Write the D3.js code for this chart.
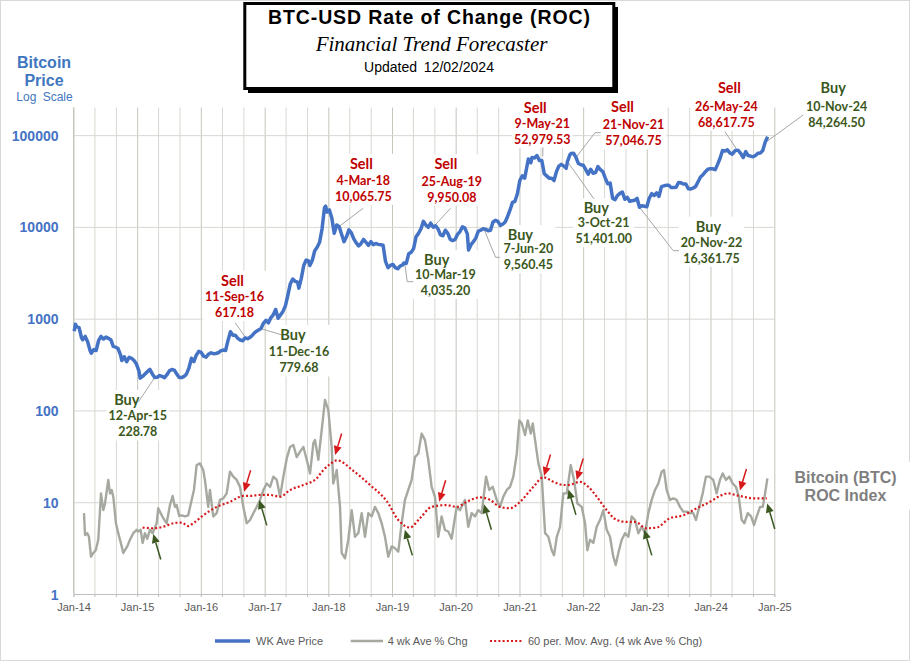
<!DOCTYPE html>
<html><head><meta charset="utf-8">
<script src="https://cdn.jsdelivr.net/npm/d3@7"></script>
<style>
body{margin:0;background:#fff;}
svg{display:block;}
</style></head><body>
<svg id="chart" width="911" height="662"></svg>
<script>
// ---------------- DATA ----------------
const priceDates = ["2014-01-05","2014-01-12","2014-01-19","2014-02-02","2014-02-16","2014-02-23","2014-03-09","2014-03-23","2014-04-06","2014-04-13","2014-04-27","2014-05-11","2014-05-25","2014-06-08","2014-06-22","2014-07-06","2014-07-20","2014-08-03","2014-08-17","2014-08-31","2014-09-14","2014-09-28","2014-10-05","2014-10-19","2014-11-02","2014-11-16","2014-11-30","2014-12-14","2014-12-28",
"2015-01-11","2015-01-18","2015-02-01","2015-02-15","2015-03-01","2015-03-15","2015-03-29","2015-04-12","2015-04-26","2015-05-10","2015-05-24","2015-06-07","2015-06-21","2015-07-05","2015-07-19","2015-08-02","2015-08-16","2015-08-30","2015-09-13","2015-09-27","2015-10-11","2015-10-25","2015-11-08","2015-11-22","2015-12-06","2015-12-20",
"2016-01-03","2016-01-17","2016-01-31","2016-02-14","2016-02-28","2016-03-13","2016-03-27","2016-04-10","2016-04-24","2016-05-08","2016-05-22","2016-06-05","2016-06-19","2016-07-03","2016-07-17","2016-07-31","2016-08-14","2016-08-28","2016-09-11","2016-09-25","2016-10-09","2016-10-23","2016-11-06","2016-11-20","2016-12-11","2016-12-25",
"2017-01-08","2017-01-22","2017-02-05","2017-02-19","2017-03-05","2017-03-19","2017-04-02","2017-04-16","2017-04-30","2017-05-14","2017-05-28","2017-06-11","2017-06-25","2017-07-09","2017-07-16","2017-07-30","2017-08-13","2017-08-27","2017-09-10","2017-09-17","2017-10-01","2017-10-15","2017-10-29","2017-11-12","2017-11-26","2017-12-10","2017-12-17","2017-12-24",
"2018-01-07","2018-01-21","2018-02-04","2018-02-18","2018-03-04","2018-03-18","2018-04-01","2018-04-15","2018-04-29","2018-05-13","2018-05-27","2018-06-10","2018-06-24","2018-07-08","2018-07-22","2018-08-05","2018-08-19","2018-09-02","2018-09-16","2018-09-30","2018-10-14","2018-10-28","2018-11-11","2018-11-25","2018-12-09","2018-12-23",
"2019-01-06","2019-01-20","2019-02-03","2019-02-17","2019-03-03","2019-03-10","2019-03-24","2019-04-07","2019-04-21","2019-05-05","2019-05-19","2019-06-02","2019-06-16","2019-06-30","2019-07-14","2019-07-28","2019-08-11","2019-08-25","2019-09-08","2019-09-22","2019-10-06","2019-10-20","2019-11-03","2019-11-17","2019-12-01","2019-12-15","2019-12-29",
"2020-01-12","2020-01-26","2020-02-09","2020-02-23","2020-03-08","2020-03-15","2020-03-29","2020-04-12","2020-04-26","2020-05-10","2020-05-24","2020-06-07","2020-06-21","2020-07-05","2020-07-19","2020-08-02","2020-08-16","2020-08-30","2020-09-13","2020-09-27","2020-10-11","2020-10-25","2020-11-08","2020-11-22","2020-12-06","2020-12-20",
"2021-01-03","2021-01-17","2021-01-31","2021-02-14","2021-02-21","2021-03-07","2021-03-14","2021-03-28","2021-04-11","2021-04-25","2021-05-09","2021-05-23","2021-06-06","2021-06-20","2021-07-04","2021-07-18","2021-08-01","2021-08-15","2021-08-29","2021-09-12","2021-09-26","2021-10-03","2021-10-17","2021-10-24","2021-11-07","2021-11-21","2021-12-05","2021-12-19",
"2022-01-02","2022-01-16","2022-01-30","2022-02-13","2022-02-27","2022-03-13","2022-03-27","2022-04-10","2022-04-24","2022-05-08","2022-05-22","2022-06-05","2022-06-19","2022-07-03","2022-07-17","2022-07-31","2022-08-14","2022-08-28","2022-09-11","2022-09-25","2022-10-09","2022-10-23","2022-11-06","2022-11-20","2022-12-04","2022-12-18",
"2023-01-01","2023-01-15","2023-01-29","2023-02-12","2023-02-26","2023-03-12","2023-03-26","2023-04-09","2023-04-23","2023-05-07","2023-05-21","2023-06-04","2023-06-18","2023-07-02","2023-07-16","2023-07-30","2023-08-13","2023-08-27","2023-09-10","2023-09-24","2023-10-08","2023-10-22","2023-11-05","2023-11-19","2023-12-03","2023-12-17","2023-12-31",
"2024-01-14","2024-01-28","2024-02-11","2024-02-25","2024-03-10","2024-03-24","2024-04-07","2024-04-21","2024-05-05","2024-05-19","2024-05-26","2024-06-09","2024-06-23","2024-07-07","2024-07-21","2024-08-04","2024-08-18","2024-09-01","2024-09-15","2024-09-29","2024-10-13","2024-10-27","2024-11-10","2024-11-24"];
const priceValues = [730,870,820,800,620,590,640,560,450,420,460,450,580,640,600,630,610,590,500,490,470,400,350,385,340,380,370,350,320,
270,225,235,250,265,280,250,228.78,230,240,235,228,245,270,280,275,250,228,228,235,250,290,370,340,400,440,
430,390,380,410,425,415,418,425,445,455,450,580,720,660,660,610,585,575,617.18,605,625,660,710,740,779.68,890,
960,900,1020,1100,1260,1010,1100,1200,1380,1800,2400,2700,2550,2500,2150,2750,3800,4350,4250,3800,4300,5500,6000,6800,9500,16200,16800,14500,
15300,12500,8500,10500,10065.75,8300,6900,7800,9300,8600,7400,6700,6200,6600,7300,6800,6300,6900,6400,6600,6450,6400,6300,4200,3600,3800,
3900,3600,3500,3750,3850,4035.2,4000,5100,5300,5800,7800,8500,9500,11500,10500,9900,11000,9950.08,10300,9500,8200,8000,9200,8500,7300,7100,7300,
8300,8900,10000,9700,8400,5600,6400,6900,7600,9000,9200,9560.45,9400,9100,9200,11300,11800,11500,10400,10700,11300,13000,15300,18500,19000,23000,
32000,36000,34000,47000,55000,50000,57000,56500,60000,53000,52979.53,38000,36000,34000,34000,32000,40000,46000,48000,46000,43500,51401,61000,63000,63500,57046.75,49000,47500,
47000,42000,37500,42500,38500,39000,45500,42000,40000,34000,29500,30000,20500,19800,22000,23200,24000,20000,21000,19000,19300,19500,20500,16361.75,17000,16800,
16600,20500,23000,22000,23500,21500,27500,28000,28500,28500,26800,26800,27000,30500,30200,29300,29300,26000,25900,26500,27600,31000,35000,37000,40000,42500,43000,
43000,42000,48000,56000,68000,67000,69000,64000,62000,67000,68617.75,68000,63000,57000,66000,60000,59000,58000,60000,63500,64000,68000,84264.5,96000];

// 4 wk Ave % Chg (time as decimal year)
const rocTimes = [2014.165,2014.181,2014.217,2014.243,2014.275,2014.311,2014.349,2014.389,2014.432,2014.468,2014.495,2014.546,2014.573,2014.600,2014.625,2014.667,2014.703,2014.757,2014.782,2014.808,2014.845,2014.887,2014.939,2014.992,
2015.017,2015.055,2015.086,2015.122,2015.159,2015.201,2015.243,2015.306,2015.331,2015.369,2015.410,2015.463,2015.515,2015.557,2015.593,2015.620,2015.661,2015.699,2015.750,2015.802,2015.856,2015.892,2015.934,2015.986,
2016.038,2016.064,2016.116,2016.143,2016.195,2016.248,2016.300,2016.352,2016.405,2016.457,2016.509,2016.562,2016.614,2016.666,2016.719,2016.771,2016.823,2016.876,2016.928,2016.980,
2017.033,2017.085,2017.137,2017.190,2017.242,2017.294,2017.347,2017.399,2017.451,2017.504,2017.556,2017.608,2017.661,2017.713,2017.765,2017.791,2017.843,2017.896,2017.948,2018.000,
2018.053,2018.078,2018.132,2018.184,2018.210,2018.262,2018.314,2018.367,2018.419,2018.471,2018.524,2018.576,2018.628,2018.681,2018.733,2018.785,2018.838,2018.890,2018.942,2018.995,
2019.047,2019.099,2019.152,2019.204,2019.256,2019.309,2019.361,2019.413,2019.466,2019.518,2019.570,2019.623,2019.675,2019.727,2019.780,2019.832,2019.884,2019.937,
2020.016,2020.068,2020.146,2020.198,2020.251,2020.303,2020.355,2020.408,2020.476,2020.527,2020.581,2020.644,2020.695,2020.747,2020.801,2020.852,2020.904,2020.958,2020.998,
2021.036,2021.088,2021.130,2021.177,2021.209,2021.245,2021.297,2021.350,2021.402,2021.454,2021.507,2021.543,2021.586,2021.637,2021.689,2021.743,2021.805,2021.857,2021.909,2021.978,
2022.030,2022.066,2022.108,2022.160,2022.213,2022.265,2022.317,2022.370,2022.422,2022.474,2022.512,2022.553,2022.606,2022.658,2022.710,2022.763,2022.815,2022.867,2022.920,2022.972,
2023.024,2023.077,2023.129,2023.181,2023.234,2023.270,2023.312,2023.364,2023.416,2023.469,2023.521,2023.573,2023.626,2023.678,2023.730,2023.772,2023.824,2023.878,2023.929,2023.981,
2024.044,2024.097,2024.148,2024.191,2024.243,2024.295,2024.348,2024.400,2024.443,2024.490,2024.531,2024.584,2024.636,2024.683,2024.725,2024.777,2024.820,2024.856,2024.892];
const rocValues = [7.6,4.4,4.6,4.2,2.55,2.8,3.0,3.9,12.5,8.2,9.7,17.5,12.5,13.6,11.5,5.9,4.6,3.3,2.8,3.0,3.3,3.9,4.6,5.0,
4.8,5.0,3.6,4.6,4.0,5.0,4.6,5.9,8.6,7.6,6.7,5.9,9.3,11.7,8.9,9.3,7.1,7.2,7.0,7.2,10.6,13.6,25.4,26.5,
22.4,17.5,8.9,13.6,7.0,7.6,10.6,11.0,12.5,21.5,19,17.5,14.7,8.9,5.9,6.4,7.6,8.9,10.6,13.6,
16,14.7,19,17.5,11.5,19,30,40,42,31,35.6,40,29,20.6,44,47.5,29,61,130,101,
40,16,22.4,8.9,2.8,2.45,3.9,8.2,4.2,4.6,7.6,4.2,7.6,7.0,8.9,7.6,5.9,4.2,2.55,3.3,
3.15,2.9,5.9,10.6,13.6,17.5,31,34,56,47.5,29,14.7,11.5,4.2,7.0,5.0,4.8,4.0,
8.9,8.2,10.6,5.4,7.6,7.0,8.2,7.6,19,13.6,14.7,10.6,8.9,11.5,13.6,14.7,19,34,78,
72,54,78,56,72,47.5,26.5,19,4.6,4.2,3.0,2.65,4.2,5.4,12.5,12.5,25.4,17.5,9.7,8.9,
5.9,3.0,3.9,3.6,5.4,6.4,8.2,5.0,4.2,2.55,2.07,2.8,3.9,4.6,4.2,7.0,6.4,4.6,5.4,4.6,
7.6,10.6,13.6,16,21.5,22.4,13.6,10.6,11,10.6,8.9,7.9,7.9,7.6,7.6,6.4,8.9,12.5,19,19,
17.5,12.5,17.5,20.6,17.5,19,16,14.7,11.5,6.4,5.9,7.6,7.0,5.65,7.0,8.9,8.9,12.5,18.2];

// 60 per. Mov. Avg. (4 wk Ave % Chg)
const maTimes = [2015.086,2015.253,2015.410,2015.567,2015.699,2015.802,2015.881,2016.038,2016.248,2016.457,2016.666,2016.771,2016.928,2017.085,2017.242,2017.399,2017.608,2017.818,2017.922,2018.027,2018.137,2018.392,2018.655,2018.917,2019.099,2019.283,2019.440,2019.623,2019.859,2020.016,2020.173,2020.381,2020.538,2020.695,2020.852,2021.009,2021.218,2021.375,2021.532,2021.689,2021.768,2021.951,2022.082,2022.213,2022.370,2022.527,2022.684,2022.815,2022.998,2023.155,2023.364,2023.573,2023.783,2023.992,2024.148,2024.279,2024.385,2024.515,2024.672,2024.882];
const maValues = [5.3,5.2,5.4,5.9,6.0,5.5,5.9,7.2,8.9,10.1,11.7,11.7,12,12,11.5,13.6,15.4,18.2,22.4,26,28.6,22,15.4,10.3,6.4,5.3,6.7,8.9,9.3,8.9,10.1,11.3,10.6,8.9,8.6,10.1,14.7,18.7,16.7,15.4,15.4,16.7,14.7,11.5,8.2,6.4,6.1,6.1,5.2,5.3,6.7,7.2,8.6,10.1,11.7,12.5,12,11.5,11.0,11.0];

// Buy / Sell signals
const signalDates  = ["2015-04-12","2016-09-11","2016-12-11","2018-03-04","2019-03-10","2019-08-25","2020-06-07","2021-05-09","2021-10-03","2021-11-21","2022-11-20","2024-05-26","2024-11-10"];
const signalTypes  = ["Buy","Sell","Buy","Sell","Buy","Sell","Buy","Sell","Buy","Sell","Buy","Sell","Buy"];
const signalPrices = [228.78,617.18,779.68,10065.75,4035.20,9950.08,9560.45,52979.53,51401.00,57046.75,16361.75,68617.75,84264.50];
const signalRocLevel = [4.5,13.0,10.6,32.7,5.0,10.1,9.5,19.3,13.8,17.5,5.0,13.4,9.7];

const yTickValues = [1,10,100,1000,10000,100000];
const legendLabels = ["WK Ave Price","4 wk Ave % Chg","60 per. Mov. Avg. (4 wk Ave % Chg)"];

// ---------------- LAYOUT (pixel offsets, not data) ----------------
const labelLayout = [
 {dx:-17,  dy:27.5, hdx:-11, gap:15.5, leader:[[-16.4,24.5],[0,0]], adx:-1.5},
 {dx:-10.6,dy:-52.2,hdx:-2,  gap:15.3, leader:[[-10,-15.2],[0,-1]], adx:-1},
 {dx:38,   dy:11.4, hdx:-6,  gap:16.5, leader:[[0,0],[21,6.4]], adx:-1.7},
 {dx:24.2, dy:-57.7,hdx:-2,  gap:16,   leader:[[24.1,-18.4],[1,-1]], adx:-4},
 {dx:41.6, dy:2,    hdx:-8.7,gap:14,   leader:[[1,1],[3.4,18.6],[9.4,18.6]], adx:1},
 {dx:18.7, dy:-57.8,hdx:-6,  gap:16.4, leader:[[17.4,-18.8],[1,-1]], adx:6},
 {dx:45.2, dy:11.3, hdx:-8,  gap:13.3, leader:[[1,1],[12.4,28.6],[16.7,28.6]], adx:0.7},
 {dx:0.5,  dy:-47.2,hdx:-7,  gap:15,   leader:[[1,-13],[1,-4]], adx:2.2},
 {dx:36.3, dy:51.6, hdx:-7.4,gap:14,   leader:[[0,0],[26.6,37.3]], adx:1},
 {dx:57.5, dy:-45.8,hdx:-11, gap:17.6, leader:[[24.7,-24.8],[19,-24.8],[0,0]], adx:0.7},
 {dx:72,   dy:24.4, hdx:-3,  gap:15,   leader:[[0,0],[33.8,43.4],[39.5,43.4]], adx:4.8},
 {dx:-9.6, dy:-57.5,hdx:3,   gap:18,   leader:[[-11,-18.5],[0,-2]], adx:4},
 {dx:71.4, dy:-49.3,hdx:-3.4,gap:18.3, leader:[[38,-27],[1.4,-0.3]], adx:2}
];

// ---------------- DRAW ----------------
const svg = d3.select("#chart");
const parse = d3.timeParse("%Y-%m-%d");
const fromDecimal = t => { const yr = Math.floor(t); const a = new Date(yr,0,1), b = new Date(yr+1,0,1); return new Date(+a + (t-yr)*(b-a)); };

const pL = 73.5, pR = 774.3, pT = 107.5, pB = 594;
const x = d3.scaleTime().domain([new Date(2014,0,1), new Date(2025,0,1)]).range([pL, pR]);
const y = d3.scaleLog().domain([1, 200000]).range([pB, pT]);

const BLUE = "#4472c4", GRAY = "#a5a9a0", RED = "#d7191c", GREEN = "#3b5720", SELLRED = "#c00000";

// outer border
svg.append("rect").attr("x",0.5).attr("y",0.5).attr("width",909).attr("height",660)
  .attr("fill","#fff").attr("stroke","#d9d9d9");

const monthTicks = d3.timeMonth.every(4).range(new Date(2014,0,1), new Date(2025,0,2));

// vertical gridlines
svg.append("g").attr("transform",`translate(0,${pB})`)
  .call(d3.axisBottom(x).tickValues(monthTicks).tickSize(-(pB-pT)).tickFormat(""))
  .call(g => g.select(".domain").remove())
  .call(g => g.selectAll("line").attr("stroke", d => d.getMonth()===0 ? "#c3c7bb" : "#d6d8d1").attr("stroke-width",1));
// horizontal gridlines
svg.append("g").attr("transform",`translate(${pL},0)`)
  .call(d3.axisLeft(y).tickValues(yTickValues.slice(1)).tickSize(-(pR-pL)).tickFormat(""))
  .call(g => g.select(".domain").remove())
  .call(g => g.selectAll("line").attr("stroke","#d6d8d1"));

// axes
svg.append("g").attr("transform",`translate(0,${pB})`)
  .call(d3.axisBottom(x).tickValues(monthTicks).tickSize(3).tickPadding(6)
    .tickFormat(d => d.getMonth()===0 ? d3.timeFormat("%b-%y")(d) : ""))
  .call(g => g.select(".domain").attr("stroke","#bfbfbf"))
  .call(g => g.selectAll("line").attr("stroke","#bfbfbf"))
  .call(g => g.selectAll("text").attr("fill","#595959").attr("font-family","Liberation Sans, Arial, sans-serif").attr("font-size",11));
svg.append("g").attr("transform",`translate(${pL},0)`)
  .call(d3.axisLeft(y).tickValues(yTickValues).tickSize(0).tickPadding(15).tickFormat(d3.format("d")))
  .call(g => g.select(".domain").attr("stroke","#c3c7bb").attr("d",`M0,${pT}V${pB}`))
  .call(g => g.selectAll("text").attr("fill",BLUE).attr("font-family","Liberation Sans, Arial, sans-serif")
     .attr("font-weight","bold").attr("font-size",14).attr("dy","0.36em"));

// label background layer (covers gridlines, sits under the series)
const labelBgG = svg.append("g");

// series
const priceData = priceDates.map((d,i)=>({date:parse(d), v:priceValues[i]}));
const rocData = rocTimes.map((t,i)=>({date:fromDecimal(t), v:rocValues[i]}));
const maData = maTimes.map((t,i)=>({date:fromDecimal(t), v:maValues[i]}));

svg.append("path").datum(rocData)
  .attr("d", d3.line().x(d=>x(d.date)).y(d=>y(d.v)))
  .attr("fill","none").attr("stroke",GRAY).attr("stroke-width",2.4).attr("stroke-linejoin","round");
svg.append("path").datum(maData)
  .attr("d", d3.line().curve(d3.curveMonotoneX).x(d=>x(d.date)).y(d=>y(d.v)))
  .attr("fill","none").attr("stroke",RED).attr("stroke-width",2.2).attr("stroke-dasharray","2 2.2");
const leaderG = svg.append("g");
svg.append("path").datum(priceData)
  .attr("d", d3.line().x(d=>x(d.date)).y(d=>y(d.v)))
  .attr("fill","none").attr("stroke",BLUE).attr("stroke-width",3.5).attr("stroke-linejoin","round");

// arrows at ROC signals
function arrow(g, x2, y2, dxTail, dyTail, color){
  const x1 = x2 + dxTail, y1 = y2 + dyTail;
  const len = Math.hypot(x2-x1, y2-y1), ux = (x2-x1)/len, uy = (y2-y1)/len;
  const hl = 9, hw = 4;
  const bx = x2 - ux*hl, by = y2 - uy*hl;
  g.append("line").attr("x1",x1).attr("y1",y1).attr("x2",bx).attr("y2",by)
    .attr("stroke",color).attr("stroke-width",1.5);
  g.append("path").attr("d",`M${x2},${y2}L${bx - uy*hw},${by + ux*hw}L${bx + uy*hw},${by - ux*hw}Z`).attr("fill",color);
}
const arrowsG = svg.append("g");
signalDates.forEach((d,i)=>{
  const ax = x(parse(d)) + labelLayout[i].adx, ay = y(signalRocLevel[i]);
  if (signalTypes[i]==="Sell") arrow(arrowsG, ax, ay, 6.5, -21.5, RED);
  else arrow(arrowsG, ax, ay, 7.5, 25.5, GREEN);
});

// price labels
const fmtDate = d3.timeFormat("%-d-%b-%y");
const fmtPrice = d3.format(",.2f");
const labelsG = svg.append("g");
signalDates.forEach((d,i)=>{
  const L = labelLayout[i];
  const px = x(parse(d)), py = y(signalPrices[i]);
  const col = signalTypes[i]==="Sell" ? SELLRED : GREEN;
  leaderG.append("path")
    .attr("d", d3.line()(L.leader.map(p=>[px+p[0], py+p[1]])))
    .attr("fill","none").attr("stroke","#a6a6a6").attr("stroke-width",1);
  const cx = px + L.dx, by = py + L.dy;
  const tg = labelsG.append("g").attr("font-family","Lato, Carlito, sans-serif").attr("font-weight","bold")
     .attr("fill",col).attr("text-anchor","middle");
  tg.append("text").attr("x",cx+L.hdx).attr("y",by).attr("font-size",14.5).text(signalTypes[i]);
  tg.append("text").attr("x",cx).attr("y",by+L.gap).attr("font-size",12.5).text(fmtDate(parse(d)));
  tg.append("text").attr("x",cx).attr("y",by+L.gap+16).attr("font-size",12.5).text(fmtPrice(signalPrices[i]));
  const bb = tg.node().getBBox();
  labelBgG.append("rect").attr("fill","#fff")
    .attr("x",bb.x-2).attr("y",bb.y-1).attr("width",bb.width+4).attr("height",bb.height+2);
});

// left header
const hdr = svg.append("g").attr("font-family","Liberation Sans, Arial, sans-serif").attr("fill","#3f76c0").attr("text-anchor","middle");
hdr.append("text").attr("x",44).attr("y",68).attr("font-size",16).attr("font-weight","bold").text("Bitcoin");
hdr.append("text").attr("x",44).attr("y",85.5).attr("font-size",16).attr("font-weight","bold").text("Price");
hdr.append("text").attr("x",44.5).attr("y",100.5).attr("font-size",12).attr("word-spacing",3).text("Log Scale");

// right side title
svg.append("rect").attr("x",786).attr("y",462).attr("width",125).attr("height",48).attr("fill","#fff");
const rt = svg.append("g").attr("font-family","Liberation Sans, Arial, sans-serif").attr("fill","#7f7f7f")
  .attr("font-weight","bold").attr("font-size",16).attr("text-anchor","middle");
rt.append("text").attr("x",845.5).attr("y",482.5).text("Bitcoin (BTC)");
rt.append("text").attr("x",845.5).attr("y",500.5).text("ROC Index");

// title box
svg.append("rect").attr("x",248).attr("y",7).attr("width",370).attr("height",86).attr("fill","#000");
svg.append("rect").attr("x",244.8).attr("y",3.5).attr("width",369).attr("height",85).attr("fill","#fff")
  .attr("stroke","#000").attr("stroke-width",3);
svg.append("text").attr("x",429).attr("y",23.5).attr("text-anchor","middle")
  .attr("font-family","Liberation Sans, Arial, sans-serif").attr("font-weight","bold").attr("font-size",19.5)
  .attr("textLength",322).attr("lengthAdjust","spacing").text("BTC-USD Rate of Change (ROC)");
svg.append("text").attr("x",431.5).attr("y",51).attr("text-anchor","middle")
  .attr("font-family","Liberation Serif, 'DejaVu Serif', serif").attr("font-style","italic").attr("font-size",21)
  .text("Financial Trend Forecaster");
svg.append("text").attr("x",429).attr("y",71.5).attr("text-anchor","middle")
  .attr("font-family","Liberation Sans, Arial, sans-serif").attr("font-size",14).attr("word-spacing",3)
  .text("Updated 12/02/2024");

// legend
const lg = svg.append("g").attr("font-family","Liberation Sans, Arial, sans-serif").attr("font-size",11).attr("fill","#595959");
const legendItems = [
  {x1:215,x2:250,tx:256,stroke:BLUE,w:3.5,dash:null},
  {x1:350.7,x2:383,tx:387.7,stroke:GRAY,w:2.4,dash:null},
  {x1:490,x2:523,tx:528,stroke:RED,w:2.2,dash:"2 2.2"}
];
legendItems.forEach((it,i)=>{
  lg.append("line").attr("x1",it.x1).attr("x2",it.x2).attr("y1",641).attr("y2",641)
    .attr("stroke",it.stroke).attr("stroke-width",it.w).attr("stroke-dasharray",it.dash);
  lg.append("text").attr("x",it.tx).attr("y",645).text(legendLabels[i]);
});
</script>
</body></html>
